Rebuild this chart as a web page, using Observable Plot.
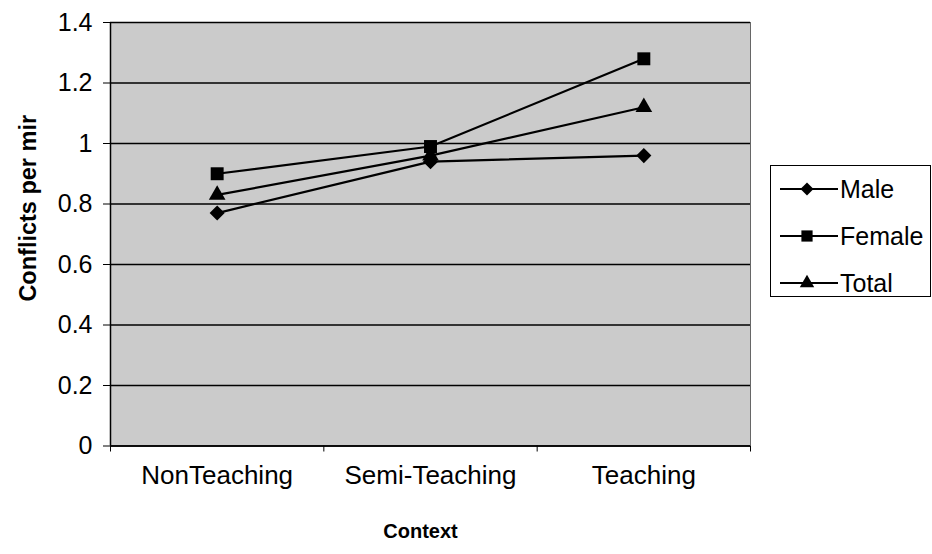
<!DOCTYPE html>
<html>
<head>
<meta charset="utf-8">
<script src="https://cdn.jsdelivr.net/npm/d3@7"></script>
<script src="https://cdn.jsdelivr.net/npm/@observablehq/plot@0.6"></script>
<style>
  html, body { margin: 0; padding: 0; background: white; }
  #wrap { position: relative; width: 932px; height: 554px; font-family: "Liberation Sans", Arial, sans-serif; }
  #legend { position: absolute; left: 770px; top: 165px; width: 161px; height: 132px; border: 1px solid #000; background: white; box-sizing: border-box; }
</style>
</head>
<body>
<div id="wrap"><div id="chart"></div><div id="legend"></div></div>
<script>
const categories = ["NonTeaching", "Semi-Teaching", "Teaching"];
const male = [0.77, 0.94, 0.96];
const female = [0.90, 0.99, 1.28];
const total = [0.83, 0.96, 1.12];
const yTicks = [0, 0.2, 0.4, 0.6, 0.8, 1, 1.2, 1.4];
const seriesNames = ["Male", "Female", "Total"];
const seriesValues = [male, female, total];
const seriesSymbols = ["diamond2", "square", "triangle"];
const seriesR = [6.8, 7.3, 6.2];

const rows = [];
seriesNames.forEach((name, s) => {
  seriesValues[s].forEach((v, i) => rows.push({series: name, idx: i, value: v, s}));
});
const boundaries = d3.range(categories.length + 1).map(i => i - 0.5);
const centers = d3.range(categories.length);

const marks = [
  Plot.frame({fill: "#cbcbcb", stroke: null}),
  Plot.gridY(yTicks, {stroke: "#000", strokeOpacity: 1, strokeWidth: 1.3}),
  Plot.ruleX([boundaries[boundaries.length - 1]], {stroke: "#666", strokeWidth: 1}),
  Plot.ruleX([boundaries[0]], {stroke: "#000", strokeWidth: 1.5}),
  Plot.ruleY([0], {stroke: "#000", strokeWidth: 1.5}),
  Plot.axisY(yTicks, {tickSize: 7, tickPadding: 11, fontSize: 25, label: null, tickFormat: d => String(d)}),
  Plot.axisX(boundaries, {tickSize: 6, tickFormat: () => "", label: null}),
  Plot.axisX(centers, {tickSize: 0, tickPadding: 20, fontSize: 26, label: null, tickFormat: i => categories[i]}),
  Plot.text(["Context"], {text: d => d, frameAnchor: "bottom", dx: -10, dy: 92, fontSize: 20, fontWeight: "bold"}),
  Plot.text(["Conflicts per mir"], {text: d => d, frameAnchor: "left", textAnchor: "middle", rotate: -90, dx: -82, dy: -26, fontSize: 23.5, fontWeight: "bold"})
];
seriesNames.forEach((name, s) => {
  const data = rows.filter(r => r.s === s);
  marks.push(Plot.line(data, {x: "idx", y: "value", stroke: "#000", strokeWidth: 2.2}));
  marks.push(Plot.dot(data, {x: "idx", y: "value", symbol: () => seriesSymbols[s], r: seriesR[s], fill: "#000", stroke: "none"}));
});

const chart = Plot.plot({
  width: 932, height: 554,
  marginLeft: 110, marginTop: 22, marginRight: 182, marginBottom: 108.5,
  style: {fontFamily: "'Liberation Sans', Arial, sans-serif", fontSize: "25px", background: "white", color: "#000"},
  x: {type: "linear", domain: [boundaries[0], boundaries[boundaries.length - 1]], axis: null},
  y: {domain: [0, 1.4], axis: null},
  marks
});
document.getElementById("chart").appendChild(chart);

// Legend
const lsvg = d3.select("#legend").append("svg").attr("width", 159).attr("height", 130)
  .style("font-family", "'Liberation Sans', Arial, sans-serif");
const symMap = {diamond2: d3.symbolDiamond2, square: d3.symbolSquare, triangle: d3.symbolTriangle};
seriesNames.forEach((name, s) => {
  const y = 23 + s * 47;
  const g = lsvg.append("g").attr("transform", `translate(0,${y})`);
  g.append("line").attr("x1", 9).attr("x2", 67).attr("y1", 0).attr("y2", 0).attr("stroke", "#000").attr("stroke-width", 2);
  g.append("path").attr("transform", "translate(36,0)")
    .attr("d", d3.symbol(symMap[seriesSymbols[s]], Math.PI * seriesR[s] * seriesR[s] * 0.75)()).attr("fill", "#000");
  g.append("text").attr("x", 69).attr("y", 0).attr("dy", "0.35em").attr("font-size", 25).text(name);
});
</script>
</body>
</html>
